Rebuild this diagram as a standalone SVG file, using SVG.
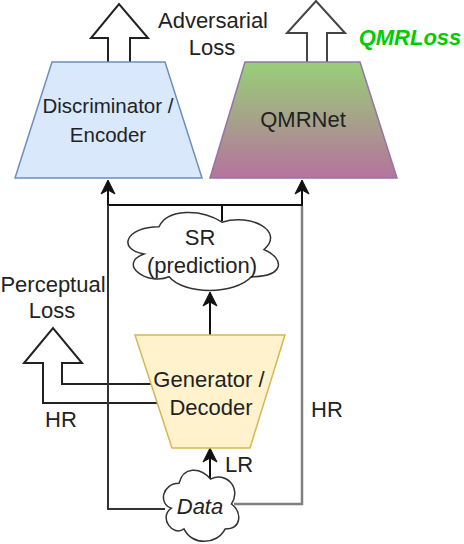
<svg xmlns="http://www.w3.org/2000/svg" width="464" height="544" viewBox="0 0 464 544">
<style>
text{font-family:"Liberation Sans",Arial,sans-serif;font-size:22px;fill:#222;text-anchor:middle}
.ln{fill:none;stroke:#111;stroke-width:2}
.big{fill:#fff;stroke:#222;stroke-width:2;stroke-linejoin:miter}
.cloud{fill:#fff;stroke:#333;stroke-width:1.5}
</style>
<defs>
<linearGradient id="qg" x1="0" y1="0" x2="0" y2="1">
<stop offset="0" stop-color="#97d077"/>
<stop offset="1" stop-color="#b5739d"/>
</linearGradient>
<marker id="ah" markerUnits="userSpaceOnUse" markerWidth="16" markerHeight="16" viewBox="0 0 16 16" refX="14" refY="8" orient="auto">
<path d="M1,1 L15,8 L1,15 L5,8 Z" fill="#111" stroke="#111" stroke-width="1"/>
</marker>
</defs>

<g id="adversarial-loss">
<path class="big" d="M108,64 L108,38 L91,38 L119,4 L148,38 L130,38 L130,64"/>
<text x="213" y="28">Adversarial</text>
<text x="212" y="55">Loss</text>
</g>

<g id="qmrloss">
<path class="big" style="stroke:#444" d="M307,64 L307,33 L287,33 L316,1 L345,33 L327,33 L327,64"/>
<text x="410" y="45" style="fill:#00cc00;font-weight:bold;font-style:italic">QMRLoss</text>
</g>

<g id="discriminator">
<polygon points="52,62 165,62 202,178 15,178" fill="#dae8fc" stroke="#6c8ebf" stroke-width="1.5"/>
<text x="108" y="113" style="font-size:20.5px">Discriminator /</text>
<text x="108" y="142" style="font-size:20.5px">Encoder</text>
</g>

<g id="qmrnet">
<polygon points="245,62 360,62 397,178 210,178" fill="url(#qg)" stroke="#9673a6" stroke-width="1.5"/>
<text x="303" y="127">QMRNet</text>
</g>

<g id="perceptual-loss">
<path class="big" d="M157,403 L43,403 L43,363 L24,363 L53,328 L82,363 L62,363 L62,384 L151,384"/>
<text x="53" y="292">Perceptual</text>
<text x="52" y="318">Loss</text>
</g>

<g id="connectors">
<path class="ln" d="M222,221 L222,205 L108,205 L108,181" marker-end="url(#ah)"/>
<path class="ln" d="M222,205 L302,205 L302,181" marker-end="url(#ah)"/>
<path class="ln" style="stroke:#333" d="M165,509 L108,509 L108,205"/>
<path class="ln" style="stroke:#808080;stroke-width:2.5" d="M234,504 L302,504 L302,206"/>
<path class="ln" d="M210,335 L210,293" marker-end="url(#ah)"/>
<path class="ln" d="M210,480 L210,449" marker-end="url(#ah)"/>
</g>

<g id="generator">
<polygon points="135,335 285,335 250,448 172,448" fill="#fff2cc" stroke="#d6b656" stroke-width="1.5"/>
<text x="209" y="387">Generator /</text>
<text x="211" y="415">Decoder</text>
</g>

<g id="sr">
<path class="cloud" d="M159,226.8 C125.4,226.8 117,249.5 143.9,254 C117,264 147.2,285.9 169.1,276.8 C184.2,295 234.6,295 251.4,276.8 C285,276.8 285,258.6 264,249.5 C285,231.3 251.4,213.1 222,222.2 C201,208.6 167.4,208.6 159,226.8 Z"/>
<text x="200" y="245">SR</text>
<text x="202" y="273">(prediction)</text>
</g>

<g id="data">
<path class="cloud" d="M179,483.3 C162.2,483.3 158,504 171.4,508.2 C158,517.3 173.1,537.2 184,528.9 C191.6,545.5 216.8,545.5 225.2,528.9 C242,528.9 242,512.3 231.5,504 C242,487.4 225.2,470.8 210.5,479.1 C200,466.7 183.2,466.7 179,483.3 Z"/>
<text x="200" y="514" style="font-style:italic">Data</text>
</g>

<g id="labels">
<text x="61" y="427">HR</text>
<text x="327" y="417">HR</text>
<text x="239" y="472">LR</text>
</g>
</svg>
